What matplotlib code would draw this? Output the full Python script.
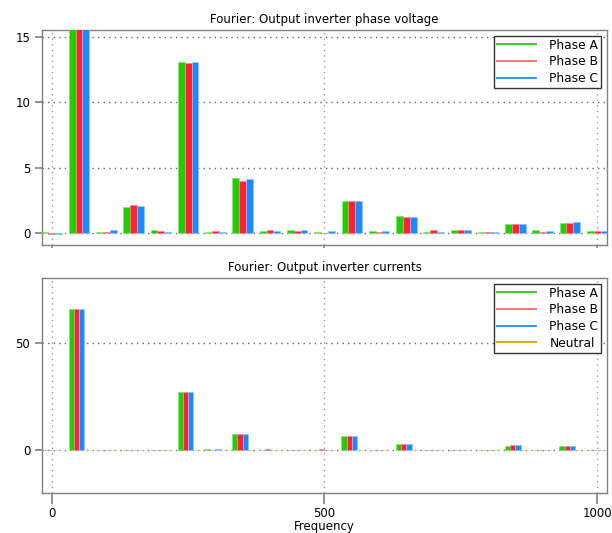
import matplotlib
matplotlib.use("Agg")
import matplotlib.pyplot as plt
from matplotlib.lines import Line2D
import numpy as np

plt.rcParams['font.family'] = ['DejaVu Sans']
plt.rcParams['font.size'] = 8.5

freqs = [0, 50, 100, 150, 200, 250, 300, 350, 400, 450, 500,
         550, 600, 650, 700, 750, 800, 850, 900, 950, 1000]

volt_a = [0.05, 16.3, 0.05, 1.96, 0.20, 13.11, 0.10, 4.18, 0.18, 0.25, 0.10,
          2.45, 0.18, 1.33, 0.10, 0.20, 0.10, 0.69, 0.23, 0.77, 0.18]
volt_b = [-0.05, 16.2, 0.08, 2.14, 0.13, 13.04, 0.18, 4.00, 0.20, 0.13, 0.03,
          2.45, 0.10, 1.25, 0.20, 0.20, 0.05, 0.69, 0.10, 0.77, 0.18]
volt_c = [-0.10, 16.3, 0.20, 2.04, 0.08, 13.11, 0.10, 4.10, 0.13, 0.25, 0.18,
          2.45, 0.18, 1.22, 0.08, 0.25, 0.05, 0.69, 0.18, 0.84, 0.13]

curr_a = [0.0, 65.8, 0.0, 0.0, 0.0, 26.9, 0.3, 7.6, 0.0, 0.0, 0.0,
          6.3, 0.2, 2.8, 0.0, 0.0, 0.0, 1.9, 0.0, 1.9, 0.0]
curr_b = [0.0, 65.8, 0.0, 0.0, 0.0, 26.9, 0.1, 7.6, 0.3, 0.0, 0.3,
          6.5, 0.0, 2.8, 0.0, 0.0, 0.0, 2.2, 0.0, 1.9, 0.0]
curr_c = [0.0, 65.8, 0.0, 0.0, 0.0, 26.9, 0.3, 7.6, 0.0, 0.0, 0.0,
          6.6, 0.2, 2.8, 0.2, 0.0, 0.0, 2.2, 0.2, 1.9, 0.0]
curr_n = [0.0] * 21

labels_v = ["Phase A", "Phase B", "Phase C"]
labels_i = ["Phase A", "Phase B", "Phase C", "Neutral"]

fill = ['#22cc00', '#ff2233', '#2288ff', '#d4a017']
edge = ['#8be07a', '#ff8a96', '#8cc4ff', '#e8c868']
legc = ['#44cc33', '#ff7a7a', '#3399ff', '#d8a82a']

fig = plt.figure(figsize=(6.12, 5.33), dpi=100)
ax1 = fig.add_axes([0.0686, 0.5403, 0.9232, 0.4034])
ax2 = fig.add_axes([0.0686, 0.0750, 0.9232, 0.4034])

x = np.array(freqs, dtype=float)

def style(ax):
    for s in ax.spines.values():
        s.set_color('#808080')
        s.set_linewidth(1.0)
    ax.set_xlim(-18, 1018)
    ax.set_xticks([0, 500, 1000])
    ax.tick_params(axis='both', direction='out', color='#808080', length=5,
                   width=1.2, labelsize=8.5)
    ax.tick_params(axis='x', length=8, pad=2)
    ax.grid(True, axis='y', linestyle=(0, (1, 3)), color='#666666', linewidth=1.0)
    ax.grid(True, axis='x', linestyle=(0, (1, 3)), color='#999999', linewidth=1.0)
    ax.set_axisbelow(True)

def legend(ax, labels):
    handles = [Line2D([0], [0], color=legc[i], lw=1.5) for i in range(len(labels))]
    leg = ax.legend(handles, labels, loc='upper right', fancybox=False,
                    framealpha=1, edgecolor='#333333', handlelength=3.2,
                    handletextpad=1.1, borderpad=0.25, labelspacing=0.3,
                    borderaxespad=0.45, fontsize=8.8)
    leg.get_frame().set_linewidth(1.0)

# Voltage
w = 12.5
for i, vals in enumerate([volt_a, volt_b, volt_c]):
    ax1.bar(x + (i - 1) * w, vals, width=w, color=fill[i], edgecolor=edge[i],
            linewidth=0.5, zorder=3)
style(ax1)
ax1.set_ylim(-0.92, 15.55)
ax1.set_yticks([0, 5, 10, 15])
ax1.tick_params(axis='x', labelbottom=False, length=2)
ax1.set_title("Fourier: Output inverter phase voltage", fontsize=8.5, pad=5)
legend(ax1, labels_v)

# Currents
w2 = 9.6
for i, vals in enumerate([curr_a, curr_b, curr_c, curr_n]):
    ax2.bar(x + (i - 1.5) * w2, vals, width=w2, color=fill[i], edgecolor=edge[i],
            linewidth=0.5, zorder=3)
style(ax2)
ax2.set_ylim(-20, 80)
ax2.set_yticks([0, 50])
ax2.set_title("Fourier: Output inverter currents", fontsize=8.5, pad=5)
ax2.set_xlabel("Frequency", fontsize=8.5, labelpad=0)
legend(ax2, labels_i)

fig.savefig("out.png", dpi=100)
